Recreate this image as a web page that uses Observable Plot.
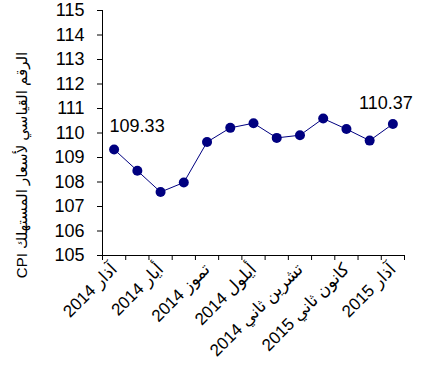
<!DOCTYPE html>
<html>
<head>
<meta charset="utf-8">
<script src="https://cdn.jsdelivr.net/npm/d3@7"></script>
<script src="https://cdn.jsdelivr.net/npm/@observablehq/plot@0.6"></script>
<style>
  html, body { margin: 0; padding: 0; background: #fff; }
</style>
</head>
<body>
<div id="chart"></div>
<script>
const months = ["آذار 2014", "نيسان 2014", "أيار 2014", "حزيران 2014", "تموز 2014", "آب 2014", "أيلول 2014", "تشرين أول 2014", "تشرين ثاني 2014", "كانون أول 2014", "كانون ثاني 2015", "شباط 2015", "آذار 2015"];
const cpi = [109.33, 108.46, 107.59, 107.98, 109.63, 110.21, 110.40, 109.80, 109.91, 110.59, 110.16, 109.69, 110.37];
const yTicks = [105, 106, 107, 108, 109, 110, 111, 112, 113, 114, 115];
const labeledMonths = [0, 2, 4, 6, 8, 10, 12];
const labeledPoints = [0, 12];
const yLabel = "الرقم القياسي لأسعار المستهلك CPI";

const RLI = "\u2067", PDI = "\u2069";
const data = months.map((m, i) => ({i, month: m, cpi: cpi[i]}));
const xPos = d => d.i + 0.5;
const font = "'Liberation Sans', Arial, 'DejaVu Sans', sans-serif";

const chart = Plot.plot({
  width: 438,
  height: 392,
  marginLeft: 102,
  marginRight: 34,
  marginTop: 10,
  marginBottom: 137,
  x: {domain: [0, months.length]},
  y: {domain: [105, 115]},
  style: {fontFamily: font, fontSize: "16px", color: "#000", background: "#fff", overflow: "visible"},
  marks: [
    Plot.ruleX([0], {stroke: "#000", strokeWidth: 1}),
    Plot.ruleY([105], {stroke: "#000", strokeWidth: 1}),
    Plot.axisY({ticks: yTicks, tickSize: 5, tickPadding: 13, label: null, fontSize: 18, tickFormat: d => String(d)}),
    Plot.axisX({ticks: d3.range(0, months.length + 1), tickSize: 5, tickFormat: () => "", label: null}),
    Plot.axisX({ticks: labeledMonths.map(i => i + 0.5), tickSize: 0, tickPadding: 11, tickRotate: -45,
      fontSize: 17, tickFormat: v => RLI + months[Math.floor(v)] + PDI, label: null}),
    Plot.line(data, {x: xPos, y: "cpi", stroke: "#000080", strokeWidth: 1}),
    Plot.dot(data, {x: xPos, y: "cpi", r: 5, fill: "#000080", stroke: "none"}),
    Plot.text([data[labeledPoints[0]]], {x: xPos, y: "cpi", text: d => d.cpi.toFixed(2), dx: 23, dy: -23, fontSize: 18}),
    Plot.text([data[labeledPoints[1]]], {x: xPos, y: "cpi", text: d => d.cpi.toFixed(2), dx: -7, dy: -21, fontSize: 18}),
    Plot.text([yLabel], {frameAnchor: "left", textAnchor: "middle", text: d => RLI + d + PDI, rotate: -90, dx: -80, dy: 32, fontSize: 15})
  ]
});
document.getElementById("chart").appendChild(chart);
</script>
</body>
</html>
